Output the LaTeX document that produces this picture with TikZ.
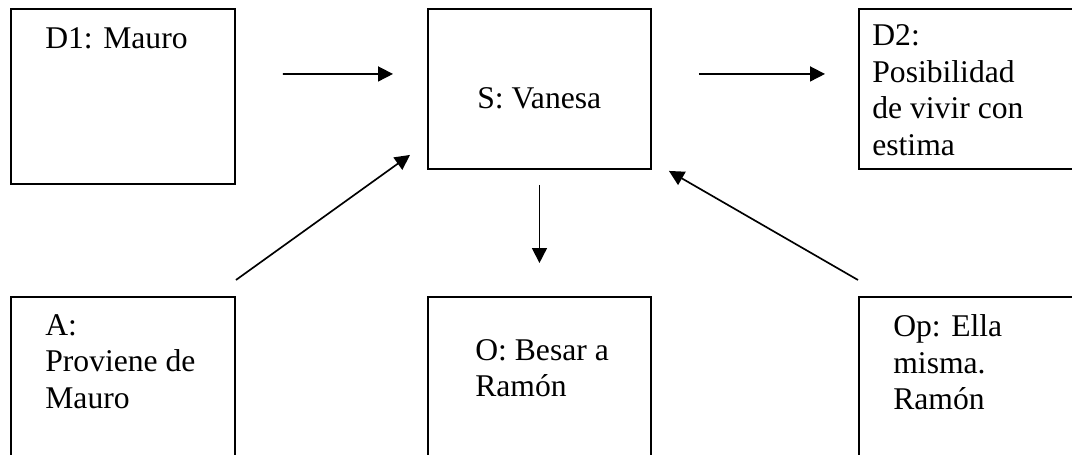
\documentclass[tikz,border=0pt]{standalone}
\usepackage{fontspec}
\setmainfont{Liberation Serif}
\usetikzlibrary{arrows.meta, positioning}

\begin{document}
\begin{tikzpicture}[x=0.02cm, y=-0.02cm,
    caja/.style={draw, line width=1.1pt, inner sep=0pt, anchor=north west},
    texto/.style={inner sep=0pt, align=left, font=\fontsize{18}{20.9}\selectfont},
    flecha/.style={-{Triangle[length=0.3cm, width=0.3cm]}, line width=0.95pt}]
			\useasboundingbox (0,0) rectangle (1072,455);
			\clip (0,0) rectangle (1072,455);

			% Draw boxes (the right and bottom ones run off the page)
			\foreach \nombre/\x/\y/\ancho/\alto in {d1/10/8/224/175, s/427/8/223/160, d2/858/8/224/160,
					a/10/296/224/175, o/427/296/223/175, op/858/296/224/175} {
					\node[caja, minimum width=\ancho*0.02cm, minimum height=\alto*0.02cm] (\nombre) at (\x,\y) {};
				}

			% Add box texts
			\node[texto, below right=0.38cm and 0.7cm of d1.north west] (d1-txt) {D1: Mauro};
			\node[texto, below right=1.58cm and 1.0cm of s.north west] (s-txt) {S: Vanesa};
			\node[texto, below right=0.32cm and 0.28cm of d2.north west] (d2-txt) {D2:\\Posibilidad\\de vivir con\\estima};
			\node[texto, below right=0.36cm and 0.7cm of a.north west] (a-txt) {A:\\Proviene de\\Mauro};
			\node[texto, below right=0.86cm and 0.96cm of o.north west] (o-txt) {O: Besar a\\Ramón};
			\node[texto, below right=0.36cm and 0.7cm of op.north west] (op-txt) {Op: Ella\\misma.\\Ramón};

			% Add arrows
			\draw[flecha, shorten <=0.94cm, shorten >=0.68cm] ([yshift=0.45cm]d1.east) -- ([yshift=0.3cm]s.west);
			\draw[flecha, shorten <=0.94cm, shorten >=0.66cm] ([yshift=0.3cm]s.east) -- ([yshift=0.3cm]d2.west);
			\draw[flecha, shorten <=0.3cm, shorten >=0.66cm] (s.south) -- (o.north);
			\draw[flecha] ([yshift=0.32cm]a.north east) -- ([xshift=-0.34cm, yshift=0.3cm]s.south west);
			\draw[flecha] ([yshift=0.32cm]op.north west) -- ([xshift=0.34cm, yshift=-0.02cm]s.south east);
		\end{tikzpicture}
\end{document}
